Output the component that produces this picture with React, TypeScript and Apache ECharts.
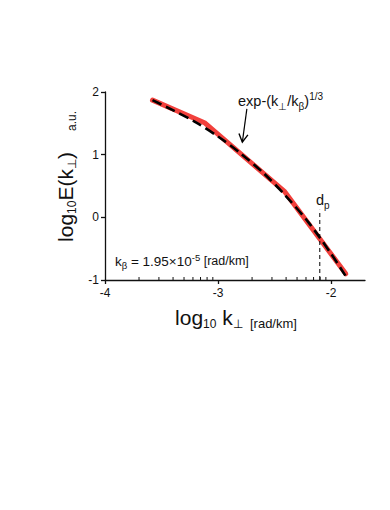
import React, { useEffect, useRef } from 'react';
import * as echarts from 'echarts';

// measured spectrum (red)
const redX = [-3.58, -3.12, -2.41, -1.87];
const redY = [1.87, 1.51, 0.41, -0.9];
// model curve exp-(k/kβ)^1/3 (black dashed)
const fitX = [-3.58, -3.4, -3.2, -3.0, -2.8, -2.6, -2.4, -2.2, -2.0, -1.87];
const fitY = [1.87, 1.71, 1.52, 1.29, 1.02, 0.71, 0.34, -0.08, -0.58, -0.94];
// axes
const xMajorTicks = [-4, -3, -2];
const xMinorTicks = [
  -3.699, -3.523, -3.398, -3.301, -3.222, -3.155, -3.097, -3.046,
  -2.699, -2.523, -2.398, -2.301, -2.222, -2.155, -2.097, -2.046,
];
const yTickLabels = ['-1', '0', '1', '2'];
// annotations
const dpLine = [[-2.1, -1], [-2.1, 0.12]];
const arrowFrom = [-2.745, 1.73];
const arrowTo = [-2.785, 1.2];

const FONT = '"Liberation Sans", Arial, Helvetica, sans-serif';
const INK = '#111';

export default function App() {
  const ref = useRef<HTMLDivElement>(null);
  useEffect(() => {
    if (!ref.current) return;
    const chart = echarts.init(ref.current, undefined, { renderer: 'svg' });
    const redData = redX.map((x, i) => [x, redY[i]]);
    const fitData = fitX.map((x, i) => [x, fitY[i]]);
    chart.setOption({
      animation: false,
      backgroundColor: '#fff',
      textStyle: { fontFamily: FONT },
      grid: { left: 105, top: 92, right: 25, bottom: 230, containLabel: false },
      xAxis: {
        type: 'value',
        min: -4,
        max: -1.7,
        interval: 1,
        splitLine: { show: false },
        axisLine: { onZero: false, lineStyle: { color: INK, width: 1.3 } },
        axisTick: { customValues: xMajorTicks, length: 4, lineStyle: { color: INK, width: 1.3 } },
        axisLabel: { customValues: xMajorTicks, margin: 7, fontSize: 12, color: INK, fontFamily: FONT },
      },
      yAxis: {
        type: 'value',
        min: -1,
        max: 2,
        interval: 1,
        splitLine: { show: false },
        axisLine: { onZero: false, lineStyle: { color: INK, width: 1.3 } },
        axisTick: { length: 4, lineStyle: { color: INK, width: 1.3 } },
        axisLabel: {
          margin: 6,
          fontSize: 12,
          color: INK,
          fontFamily: FONT,
          formatter: (v: number) => yTickLabels[Math.round(v) + 1] ?? '',
        },
      },
      series: [
        {
          type: 'line',
          data: redData,
          symbol: 'none',
          lineStyle: { color: '#f2403c', width: 5, cap: 'round', join: 'round' },
          z: 2,
        },
        {
          type: 'line',
          data: fitData,
          symbol: 'none',
          smooth: 0.3,
          lineStyle: { color: '#000', width: 2.6, type: [10, 5] },
          z: 3,
        },
        {
          type: 'line',
          data: dpLine,
          symbol: 'none',
          lineStyle: { color: '#000', width: 1, type: [4, 3] },
          z: 4,
        },
        {
          type: 'custom',
          data: xMinorTicks.map((v) => [v, -1]),
          clip: false,
          z: 5,
          renderItem: (params: any, api: any) => {
            const p = api.coord([api.value(0), -1]);
            return {
              type: 'line',
              shape: { x1: p[0], y1: p[1], x2: p[0], y2: p[1] - 3 },
              style: { stroke: INK, lineWidth: 1 },
            };
          },
        },
        {
          type: 'custom',
          data: [[arrowFrom[0], arrowFrom[1], arrowTo[0], arrowTo[1]]],
          clip: false,
          z: 6,
          renderItem: (params: any, api: any) => {
            const a = api.coord([api.value(0), api.value(1)]);
            const b = api.coord([api.value(2), api.value(3)]);
            const dx = b[0] - a[0];
            const dy = b[1] - a[1];
            const len = Math.sqrt(dx * dx + dy * dy);
            const ux = dx / len;
            const uy = dy / len;
            const hl = 8;
            const hw = 4.5;
            const bx = b[0] - ux * hl;
            const by = b[1] - uy * hl;
            return {
              type: 'group',
              children: [
                {
                  type: 'line',
                  shape: { x1: a[0], y1: a[1], x2: b[0], y2: b[1] },
                  style: { stroke: '#000', lineWidth: 1.2 },
                },
                {
                  type: 'polyline',
                  shape: {
                    points: [
                      [bx - uy * hw, by + ux * hw],
                      [b[0], b[1]],
                      [bx + uy * hw, by - ux * hw],
                    ],
                  },
                  style: { stroke: '#000', lineWidth: 1.4, fill: 'none' },
                },
              ],
            };
          },
        },
      ],
      graphic: [
        {
          type: 'text',
          x: 65,
          y: 197,
          rotation: Math.PI / 2,
          style: {
            text: '{b|log}{s|10}{b|E(k}{s|⊥}{b|)}',
            align: 'center',
            verticalAlign: 'middle',
            fill: INK,
            rich: {
              b: { fontSize: 21, lineHeight: 26, fontFamily: FONT, fill: INK },
              s: { fontSize: 12, lineHeight: 12, verticalAlign: 'bottom', fontFamily: FONT, fill: INK },
            },
          },
        },
        {
          type: 'text',
          x: 72,
          y: 121,
          rotation: Math.PI / 2,
          style: { text: 'a.u.', align: 'center', verticalAlign: 'middle', fill: INK, font: `12px ${FONT}` },
        },
        {
          type: 'text',
          x: 236,
          y: 317,
          style: {
            text: '{b|log}{s|10}{b| k}{s|⊥}{m|  [rad/km]}',
            align: 'center',
            verticalAlign: 'middle',
            fill: INK,
            rich: {
              b: { fontSize: 21, lineHeight: 26, fontFamily: FONT, fill: INK },
              s: { fontSize: 12, lineHeight: 12, verticalAlign: 'bottom', fontFamily: FONT, fill: INK },
              m: { fontSize: 13, lineHeight: 22, verticalAlign: 'bottom', fontFamily: FONT, fill: INK },
            },
          },
        },
        {
          type: 'text',
          x: 115,
          y: 261,
          style: {
            text: '{b|k}{s|β}{b| = 1.95×10}{p|-5}{m| [rad/km]}',
            align: 'left',
            verticalAlign: 'middle',
            fill: INK,
            rich: {
              b: { fontSize: 13.5, lineHeight: 18, fontFamily: FONT, fill: INK },
              s: { fontSize: 9.5, lineHeight: 9, verticalAlign: 'bottom', fontFamily: FONT, fill: INK },
              p: { fontSize: 9.5, lineHeight: 10, verticalAlign: 'top', fontFamily: FONT, fill: INK },
              m: { fontSize: 12.5, lineHeight: 18, fontFamily: FONT, fill: INK },
            },
          },
        },
        {
          type: 'text',
          x: 238,
          y: 101,
          style: {
            text: '{b|exp-(k}{s|⊥}{b|/k}{s|β}{b|)}{p|1/3}',
            align: 'left',
            verticalAlign: 'middle',
            fill: INK,
            rich: {
              b: { fontSize: 14.5, lineHeight: 20, fontFamily: FONT, fill: INK },
              s: { fontSize: 10, lineHeight: 10, verticalAlign: 'bottom', fontFamily: FONT, fill: INK },
              p: { fontSize: 10, lineHeight: 10, verticalAlign: 'top', fontFamily: FONT, fill: INK },
            },
          },
        },
        {
          type: 'text',
          x: 316,
          y: 200,
          style: {
            text: '{b|d}{s|p}',
            align: 'left',
            verticalAlign: 'middle',
            fill: INK,
            rich: {
              b: { fontSize: 14.5, lineHeight: 20, fontFamily: FONT, fill: INK },
              s: { fontSize: 10, lineHeight: 10, verticalAlign: 'bottom', fontFamily: FONT, fill: INK },
            },
          },
        },
      ],
    });
    return () => chart.dispose();
  }, []);
  return (
    <div
      ref={ref}
      style={{ position: 'absolute', left: 0, top: 0, width: 390, height: 510, background: '#fff' }}
    />
  );
}
